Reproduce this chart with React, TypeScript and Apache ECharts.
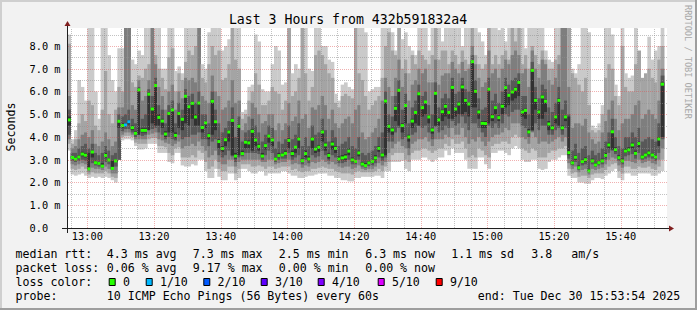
import React, { useEffect, useRef } from 'react';
import * as echarts from 'echarts';

const MONO = "'DejaVu Sans Mono', monospace";
const WINDOW_START = '12:53:54';
const WINDOW_SECONDS = 10800;
const FIRST_STEP_OFFSET = 6;
const STEP_SECONDS = 60;
const Y_MAX = 8.79;

const titleText = 'Last 3 Hours from 432b591832a4';
const yAxisName = 'Seconds';
const watermark = 'RRDTOOL / TOBI OETIKER';

// median RTT per minute (ms)
const medianRtt = [
  4.75, 3.10, 3.03, 3.12, 3.25, 3.20, 2.60, 3.34, 2.87, 2.84,
  2.72, 3.19, 2.99, 2.62, 2.95, 4.69, 4.50, 4.53, 4.67, 4.41,
  4.16, 6.07, 4.29, 4.29, 5.88, 5.23, 6.26, 4.86, 4.70, 4.13,
  5.03, 5.19, 4.07, 5.03, 4.78, 5.79, 5.33, 5.48, 4.88, 5.49,
  4.42, 4.62, 4.06, 5.57, 4.67, 3.80, 3.49, 3.88, 4.22, 4.73,
  3.16, 4.47, 3.27, 3.77, 3.74, 4.25, 3.87, 3.59, 3.16, 3.62,
  4.04, 3.87, 3.03, 3.18, 3.21, 3.28, 3.85, 3.27, 3.55, 3.91,
  2.96, 3.27, 3.03, 3.91, 3.47, 3.55, 4.22, 3.65, 3.19, 3.69,
  3.50, 3.03, 3.08, 3.12, 3.38, 2.99, 2.93, 3.30, 2.81, 2.74,
  2.86, 2.93, 3.08, 3.50, 3.21, 5.58, 4.47, 4.31, 5.26, 6.05,
  4.50, 5.38, 4.00, 4.70, 5.08, 5.90, 5.29, 5.54, 4.88, 4.31,
  5.92, 4.75, 5.11, 5.35, 5.08, 6.18, 5.23, 5.45, 6.20, 5.61,
  5.45, 7.31, 6.01, 5.10, 4.60, 4.59, 6.10, 4.89, 5.29, 4.85,
  5.35, 6.17, 5.83, 5.98, 6.10, 6.40, 5.10, 5.17, 4.22, 6.93,
  5.61, 5.10, 5.76, 5.57, 4.57, 4.40, 4.88, 5.61, 4.40, 4.88,
  3.31, 2.86, 3.11, 2.65, 2.92, 3.00, 2.51, 2.95, 2.77, 2.87,
  2.95, 3.19, 3.65, 4.23, 3.44, 3.09, 2.95, 3.38, 3.43, 3.65,
  3.28, 3.71, 3.12, 3.21, 3.30, 3.21, 3.12, 3.91, 6.32,
];

// smoke bands (ms): band1 = outermost (min..max), band5 = innermost
const band1Lo = [
  3.4, 2.35, 2.3, 2.35, 2.4, 2.3, 2.2, 2.25, 2.2, 2.25,
  2.2, 2.25, 2.2, 2.1, 2.0, 3.0, 3.85, 3.9, 3.9, 3.85,
  3.6, 3.45, 3.45, 3.5, 3.7, 3.7, 3.7, 3.3, 3.3, 3.3,
  2.9, 2.85, 3.3, 3.3, 2.75, 2.7, 2.7, 2.8, 2.75, 3.0,
  3.0, 2.5, 2.2, 2.2, 2.6, 2.25, 2.1, 2.1, 2.4, 2.4,
  2.1, 2.2, 2.6, 2.6, 2.5, 2.4, 2.4, 2.5, 2.5, 2.3,
  2.4, 2.4, 2.4, 2.4, 2.5, 2.5, 2.4, 2.3, 2.3, 2.2,
  2.2, 2.25, 2.3, 2.3, 2.35, 2.4, 2.4, 2.4, 2.3, 2.3,
  2.2, 2.2, 2.1, 2.1, 2.05, 2.05, 2.2, 2.2, 2.25, 2.25,
  2.25, 2.25, 2.3, 2.3, 2.2, 2.5, 2.5, 2.9, 2.9, 2.9,
  2.95, 2.6, 2.5, 3.0, 3.0, 3.0, 3.1, 3.1, 3.0, 2.9,
  3.0, 3.1, 3.1, 3.4, 3.2, 3.5, 3.3, 3.3, 3.3, 3.0,
  2.6, 2.6, 2.6, 3.1, 3.1, 2.8, 2.6, 3.3, 3.3, 3.4,
  3.4, 3.3, 3.2, 3.5, 3.6, 3.5, 3.0, 2.9, 2.9, 3.0,
  3.0, 2.6, 2.55, 2.6, 2.9, 3.0, 3.0, 3.1, 3.2, 3.2,
  2.3, 2.2, 2.2, 2.0, 2.0, 1.95, 1.95, 2.1, 2.2, 2.2,
  2.15, 2.3, 2.4, 2.5, 2.6, 2.2, 2.1, 2.4, 2.4, 2.3,
  2.3, 2.4, 2.4, 2.4, 2.4, 2.3, 2.3, 2.4, 2.5,
];
const band2Lo = [
  3.7, 2.6, 2.55, 2.6, 2.7, 2.6, 2.35, 2.45, 2.4, 2.4,
  2.4, 2.5, 2.4, 2.25, 2.2, 3.0, 4.0, 4.05, 4.05, 4.0,
  3.75, 3.7, 3.7, 3.7, 3.9, 3.95, 3.95, 3.6, 3.6, 3.55,
  3.3, 3.2, 3.5, 3.55, 3.1, 3.1, 3.1, 3.2, 3.1, 3.4,
  3.3, 2.9, 2.6, 2.7, 3.0, 2.6, 2.5, 2.5, 2.7, 2.7,
  2.4, 2.6, 2.8, 2.8, 2.8, 2.7, 2.7, 2.75, 2.7, 2.6,
  2.7, 2.7, 2.6, 2.65, 2.7, 2.7, 2.7, 2.55, 2.6, 2.5,
  2.45, 2.5, 2.5, 2.6, 2.6, 2.65, 2.7, 2.65, 2.6, 2.6,
  2.5, 2.45, 2.4, 2.4, 2.4, 2.35, 2.45, 2.5, 2.45, 2.45,
  2.45, 2.45, 2.5, 2.6, 2.5, 2.7, 2.9, 3.2, 3.3, 3.3,
  3.3, 3.0, 2.9, 3.3, 3.4, 3.4, 3.5, 3.5, 3.4, 3.3,
  3.4, 3.5, 3.5, 3.7, 3.6, 3.9, 3.7, 3.7, 3.8, 3.5,
  3.1, 3.2, 3.1, 3.5, 3.4, 3.2, 3.1, 3.6, 3.7, 3.7,
  3.8, 3.8, 3.7, 4.0, 4.1, 4.0, 3.5, 3.4, 3.3, 3.5,
  3.4, 3.1, 3.1, 3.1, 3.3, 3.4, 3.4, 3.5, 3.5, 3.6,
  2.6, 2.4, 2.45, 2.25, 2.3, 2.3, 2.2, 2.35, 2.4, 2.4,
  2.4, 2.55, 2.7, 2.8, 2.85, 2.5, 2.4, 2.7, 2.7, 2.6,
  2.6, 2.7, 2.65, 2.65, 2.7, 2.6, 2.55, 2.7, 3.0,
];
const band3Lo = [
  3.9, 2.8, 2.75, 2.8, 2.85, 2.8, 2.45, 2.65, 2.6, 2.6,
  2.55, 2.7, 2.6, 2.4, 2.4, 3.0, 4.1, 4.2, 4.2, 4.1,
  3.9, 3.9, 3.9, 3.9, 4.1, 4.15, 4.2, 3.9, 3.85, 3.75,
  3.7, 3.6, 3.7, 3.8, 3.5, 3.6, 3.6, 3.7, 3.6, 3.8,
  3.6, 3.4, 3.1, 3.2, 3.4, 2.9, 2.8, 2.8, 3.0, 3.0,
  2.7, 2.9, 3.0, 3.0, 3.0, 3.0, 3.0, 3.0, 2.9, 2.9,
  3.0, 3.0, 2.8, 2.85, 2.9, 2.9, 3.0, 2.8, 2.85, 2.8,
  2.65, 2.75, 2.7, 2.9, 2.85, 2.9, 3.0, 2.9, 2.8, 2.9,
  2.8, 2.7, 2.65, 2.7, 2.7, 2.6, 2.65, 2.75, 2.6, 2.55,
  2.6, 2.6, 2.7, 2.85, 2.75, 2.9, 3.3, 3.5, 3.7, 3.8,
  3.6, 3.5, 3.2, 3.7, 3.8, 3.9, 3.9, 4.0, 3.8, 3.6,
  3.9, 3.9, 3.9, 4.1, 4.0, 4.4, 4.1, 4.1, 4.4, 4.0,
  3.7, 3.9, 3.8, 4.0, 3.8, 3.6, 3.8, 4.0, 4.1, 4.1,
  4.2, 4.4, 4.3, 4.6, 4.6, 4.6, 4.0, 3.9, 3.7, 4.2,
  4.0, 3.7, 3.8, 3.8, 3.7, 3.8, 3.9, 4.0, 3.8, 4.0,
  2.85, 2.6, 2.7, 2.45, 2.55, 2.6, 2.35, 2.6, 2.55, 2.6,
  2.65, 2.8, 3.0, 3.1, 3.05, 2.75, 2.65, 2.95, 2.95, 2.9,
  2.85, 3.0, 2.85, 2.9, 2.95, 2.85, 2.8, 3.0, 3.5,
];
const band4Lo = [
  4.1, 2.95, 2.9, 2.95, 3.0, 2.95, 2.55, 2.85, 2.75, 2.7,
  2.65, 2.9, 2.8, 2.55, 2.7, 3.0, 4.25, 4.35, 4.35, 4.2,
  4.0, 4.1, 4.05, 4.1, 4.3, 4.35, 4.4, 4.2, 4.1, 3.9,
  4.0, 3.9, 3.85, 4.1, 3.9, 4.0, 4.0, 4.1, 4.1, 4.2,
  3.9, 3.9, 3.6, 3.8, 3.9, 3.2, 3.1, 3.2, 3.4, 3.15,
  2.9, 3.1, 3.15, 3.3, 3.3, 3.3, 3.3, 3.25, 3.0, 3.2,
  3.4, 3.3, 2.9, 3.0, 3.05, 3.05, 3.3, 3.0, 3.1, 3.2,
  2.8, 3.0, 2.85, 3.2, 3.1, 3.15, 3.4, 3.2, 2.95, 3.2,
  3.1, 2.85, 2.85, 2.9, 3.0, 2.8, 2.8, 3.0, 2.7, 2.65,
  2.72, 2.75, 2.85, 3.1, 2.95, 3.1, 3.8, 3.8, 4.2, 4.4,
  3.9, 4.0, 3.5, 4.1, 4.2, 4.5, 4.4, 4.5, 4.2, 3.9,
  4.45, 4.2, 4.3, 4.5, 4.4, 4.7, 4.5, 4.6, 4.9, 4.6,
  4.3, 4.6, 4.6, 4.4, 4.2, 4.0, 4.5, 4.4, 4.6, 4.4,
  4.6, 5.0, 4.9, 5.1, 5.2, 5.2, 4.5, 4.4, 4.0, 4.25,
  4.6, 4.3, 4.5, 4.5, 4.1, 4.1, 4.3, 4.4, 4.1, 4.4,
  3.05, 2.75, 2.9, 2.55, 2.75, 2.8, 2.45, 2.8, 2.68, 2.75,
  2.8, 3.0, 3.3, 3.4, 3.25, 2.95, 2.8, 3.15, 3.2, 3.25,
  3.05, 3.3, 3.0, 3.05, 3.1, 3.05, 2.95, 3.3, 3.9,
];
const band5Lo = [
  4.5, 3.05, 2.98, 3.05, 3.15, 3.1, 2.6, 3.1, 2.85, 2.8,
  2.7, 3.1, 2.95, 2.6, 2.9, 4.4, 4.4, 4.45, 4.55, 4.3,
  4.1, 4.1, 4.2, 4.2, 4.3, 4.6, 4.5, 4.5, 4.4, 4.0,
  4.2, 4.2, 3.95, 4.4, 4.3, 4.6, 4.5, 4.8, 4.5, 4.5,
  4.2, 4.4, 3.9, 4.1, 4.3, 3.5, 3.35, 3.6, 3.8, 3.2,
  3.05, 3.2, 3.2, 3.5, 3.5, 3.4, 3.6, 3.4, 3.1, 3.45,
  3.75, 3.6, 2.98, 3.1, 3.15, 3.2, 3.5, 3.15, 3.3, 3.5,
  2.9, 3.1, 2.95, 3.5, 3.3, 3.35, 3.8, 3.4, 3.05, 3.45,
  3.3, 2.95, 2.98, 3.0, 3.2, 2.9, 2.88, 3.15, 2.75, 2.7,
  2.8, 2.85, 2.98, 3.35, 3.1, 3.2, 4.2, 4.1, 4.7, 4.5,
  4.2, 4.6, 3.8, 4.4, 4.6, 4.5, 4.9, 5.0, 4.6, 4.15,
  4.5, 4.5, 4.7, 4.9, 4.8, 4.8, 4.9, 5.0, 5.0, 5.1,
  4.9, 5.3, 5.3, 4.8, 4.4, 4.4, 4.6, 4.7, 5.0, 4.7,
  5.0, 5.3, 5.4, 5.6, 5.7, 5.8, 4.9, 4.8, 4.15, 4.3,
  5.2, 4.8, 4.8, 5.1, 4.3, 4.3, 4.6, 4.5, 4.3, 4.7,
  3.2, 2.8, 3.0, 2.6, 2.85, 2.9, 2.48, 2.9, 2.73, 2.82,
  2.9, 3.1, 3.5, 3.45, 3.35, 3.02, 2.9, 3.3, 3.35, 3.5,
  3.2, 3.55, 3.05, 3.15, 3.2, 3.15, 3.05, 3.6, 4.0,
];
const band5Hi = [
  4.9, 3.15, 3.1, 3.2, 3.35, 3.3, 3.3, 3.4, 2.95, 2.9,
  2.85, 3.3, 3.05, 2.95, 3.0, 4.75, 4.6, 4.6, 4.75, 4.5,
  4.25, 6.1, 4.4, 4.4, 5.95, 5.3, 6.3, 5.0, 4.8, 4.25,
  5.1, 5.25, 4.2, 5.1, 4.85, 5.85, 5.4, 5.55, 5.0, 5.55,
  4.5, 4.7, 4.15, 5.65, 4.75, 3.9, 3.6, 3.95, 4.3, 4.8,
  3.3, 4.55, 3.4, 3.85, 3.85, 4.35, 3.95, 3.7, 3.3, 3.7,
  4.1, 3.95, 3.1, 3.3, 3.3, 3.4, 3.95, 3.4, 3.6, 4.0,
  3.05, 3.4, 3.15, 4.0, 3.55, 3.65, 4.3, 3.75, 3.3, 3.8,
  3.6, 3.15, 3.2, 3.25, 3.5, 3.1, 3.0, 3.4, 2.9, 2.85,
  2.95, 3.0, 3.2, 3.6, 3.3, 5.65, 4.55, 4.4, 5.35, 6.1,
  4.6, 5.45, 4.1, 4.8, 5.15, 5.95, 5.35, 5.6, 4.95, 4.4,
  6.0, 4.85, 5.2, 5.45, 5.15, 6.25, 5.3, 5.55, 6.3, 5.7,
  5.5, 7.35, 6.1, 5.2, 4.7, 4.7, 6.15, 5.0, 5.35, 4.95,
  5.45, 6.25, 5.9, 6.05, 6.2, 6.5, 5.2, 5.25, 4.35, 7.0,
  5.7, 5.2, 5.85, 5.65, 4.7, 4.5, 4.95, 5.7, 4.5, 4.95,
  4.9, 2.95, 3.2, 2.75, 3.0, 3.1, 2.6, 3.05, 2.85, 2.95,
  3.05, 3.3, 3.75, 4.3, 3.55, 3.2, 3.05, 3.5, 3.55, 3.75,
  3.4, 3.8, 3.2, 3.3, 3.4, 3.3, 3.2, 4.0, 6.4,
];
const band4Hi = [
  5.2, 3.3, 3.3, 3.5, 3.6, 3.7, 3.5, 3.7, 3.3, 3.2,
  3.3, 3.6, 3.4, 3.2, 3.3, 5.0, 4.9, 5.0, 5.2, 4.8,
  4.6, 6.2, 4.8, 5.0, 6.1, 5.8, 6.6, 5.4, 5.2, 4.6,
  5.4, 5.6, 4.6, 5.5, 5.2, 6.1, 5.8, 5.9, 5.5, 6.0,
  5.0, 5.0, 4.6, 6.0, 5.2, 4.6, 4.2, 4.4, 4.7, 5.3,
  4.0, 4.9, 3.8, 4.2, 4.3, 4.8, 4.5, 4.2, 3.8, 4.1,
  4.5, 4.4, 3.5, 3.8, 3.7, 3.9, 4.5, 3.9, 4.1, 4.6,
  3.6, 4.0, 3.6, 4.5, 4.1, 4.2, 4.8, 4.3, 3.8, 4.3,
  4.0, 3.6, 3.7, 3.8, 4.0, 3.6, 3.5, 4.0, 3.3, 3.2,
  3.3, 3.4, 3.6, 4.0, 4.2, 6.0, 5.0, 4.9, 5.8, 6.5,
  5.2, 5.9, 4.6, 5.3, 5.6, 6.3, 5.8, 6.0, 5.4, 5.0,
  6.4, 5.3, 5.7, 5.9, 5.7, 6.6, 5.9, 6.0, 6.6, 6.1,
  6.0, 7.6, 6.5, 5.7, 5.2, 5.3, 6.6, 5.6, 5.9, 5.5,
  6.0, 6.6, 6.3, 6.5, 6.6, 6.8, 5.8, 5.8, 5.0, 7.3,
  6.2, 5.7, 6.3, 6.1, 5.3, 5.1, 5.5, 6.2, 5.2, 5.6,
  5.0, 3.4, 3.7, 3.3, 3.5, 3.6, 3.2, 3.4, 3.2, 3.3,
  3.5, 3.8, 4.2, 4.8, 4.0, 3.6, 3.5, 4.0, 4.0, 4.2,
  4.0, 4.4, 3.8, 3.9, 4.0, 3.9, 3.8, 4.6, 6.7,
];
const band3Hi = [
  5.8, 3.5, 3.6, 3.9, 4.1, 4.2, 4.0, 4.3, 3.7, 3.6,
  3.8, 4.2, 3.9, 3.6, 3.8, 5.3, 5.3, 8.8, 8.8, 5.4,
  5.2, 6.5, 5.6, 5.8, 6.5, 8.8, 7.2, 6.2, 5.8, 5.2,
  6.0, 6.3, 5.2, 6.0, 5.7, 6.6, 6.5, 6.6, 6.4, 8.8,
  5.8, 5.6, 5.5, 6.7, 6.0, 5.8, 5.2, 5.3, 5.6, 6.5,
  5.5, 5.6, 4.3, 4.6, 4.9, 5.5, 5.3, 5.0, 4.6, 4.7,
  5.0, 5.0, 4.3, 4.6, 4.3, 4.6, 5.5, 4.7, 4.9, 5.6,
  4.8, 5.0, 4.4, 5.3, 5.2, 5.4, 5.8, 5.4, 4.8, 5.2,
  4.6, 4.4, 4.6, 4.8, 4.9, 4.6, 5.2, 5.4, 4.2, 3.9,
  4.0, 4.2, 4.4, 4.8, 5.6, 6.6, 6.2, 5.8, 6.6, 7.4,
  6.2, 6.8, 5.6, 6.3, 6.5, 7.0, 6.8, 7.0, 6.4, 6.4,
  7.4, 6.3, 6.7, 6.8, 6.8, 7.3, 7.0, 6.8, 7.3, 6.9,
  7.0, 8.0, 7.2, 6.6, 6.2, 6.4, 7.8, 6.8, 7.0, 6.6,
  7.0, 7.4, 7.2, 7.6, 7.8, 7.6, 6.8, 7.0, 6.2, 7.8,
  7.0, 6.6, 7.4, 7.2, 6.5, 6.3, 6.6, 7.2, 8.8, 8.8,
  6.2, 4.4, 4.6, 4.6, 4.5, 4.8, 4.2, 3.9, 3.7, 3.8,
  4.2, 4.7, 5.2, 5.6, 4.8, 4.3, 4.6, 4.8, 4.8, 5.0,
  5.4, 5.6, 4.8, 5.0, 5.2, 5.0, 4.8, 5.6, 7.0,
];
const band2Hi = [
  8.1, 3.7, 3.9, 4.6, 5.0, 4.7, 5.6, 5.4, 4.5, 4.3,
  5.2, 6.9, 5.0, 4.6, 5.2, 6.2, 6.0, 8.8, 8.8, 6.4,
  6.2, 6.7, 6.6, 7.0, 7.2, 8.8, 7.6, 7.0, 6.6, 6.1,
  7.5, 7.9, 6.0, 6.8, 6.5, 7.3, 7.8, 7.6, 8.0, 8.8,
  6.6, 6.4, 7.2, 8.0, 7.6, 7.8, 6.5, 6.6, 7.2, 8.8,
  7.4, 7.0, 4.8, 5.0, 5.6, 6.0, 6.8, 6.3, 5.4, 5.4,
  5.6, 6.2, 6.0, 5.9, 5.2, 5.6, 8.8, 5.8, 6.0, 6.6,
  8.8, 6.8, 5.6, 6.2, 7.6, 7.8, 7.6, 7.2, 6.8, 6.6,
  5.5, 5.3, 5.8, 5.9, 5.8, 5.7, 8.8, 6.8, 6.5, 5.8,
  5.2, 5.4, 5.6, 5.8, 6.6, 8.0, 8.6, 7.8, 7.6, 8.8,
  7.0, 7.4, 6.8, 7.6, 7.2, 7.8, 7.6, 7.4, 7.2, 7.6,
  8.8, 7.4, 7.8, 7.8, 7.2, 7.8, 7.6, 7.2, 7.8, 7.4,
  7.2, 8.8, 7.6, 7.2, 7.0, 7.2, 8.8, 7.2, 7.6, 7.2,
  7.6, 7.8, 7.4, 8.8, 8.2, 8.8, 7.2, 7.6, 7.0, 8.0,
  7.6, 7.2, 7.8, 7.4, 7.0, 7.0, 7.4, 7.6, 8.8, 8.8,
  8.8, 6.8, 6.6, 6.3, 6.0, 6.6, 5.4, 4.3, 4.2, 4.3,
  5.0, 6.6, 7.2, 7.0, 5.8, 5.4, 8.0, 6.2, 6.0, 6.0,
  7.2, 7.8, 6.6, 6.8, 7.0, 6.6, 6.4, 7.4, 8.0,
];
const band1Hi = [
  8.5, 3.9, 4.3, 6.5, 6.2, 5.6, 8.8, 8.8, 6.0, 4.8,
  8.8, 8.8, 7.6, 6.5, 6.0, 7.9, 7.9, 8.8, 8.8, 7.4,
  7.2, 7.8, 7.6, 8.8, 8.8, 8.8, 8.8, 8.8, 7.0, 7.0,
  8.8, 8.8, 6.9, 7.1, 6.8, 8.8, 8.8, 8.8, 8.8, 8.8,
  7.2, 7.0, 8.6, 8.8, 8.8, 8.8, 7.8, 8.0, 8.3, 8.8,
  8.8, 8.8, 5.1, 5.2, 6.2, 6.3, 8.5, 8.2, 6.1, 6.0,
  6.0, 7.2, 8.0, 7.8, 6.3, 6.4, 8.8, 6.8, 7.2, 7.0,
  8.8, 8.8, 7.0, 6.9, 8.8, 8.8, 8.0, 8.0, 7.4, 7.3,
  5.9, 5.6, 6.3, 6.4, 6.2, 6.1, 8.8, 8.8, 8.8, 8.6,
  6.0, 6.1, 6.2, 6.2, 8.8, 8.8, 8.8, 8.6, 7.8, 8.8,
  8.3, 8.6, 8.0, 7.8, 7.6, 8.8, 8.8, 8.8, 7.8, 8.8,
  8.8, 8.8, 8.2, 8.8, 8.8, 8.8, 8.8, 8.8, 8.0, 8.8,
  8.8, 8.8, 8.8, 8.6, 8.2, 7.6, 8.8, 8.8, 8.8, 8.7,
  8.8, 8.2, 8.8, 8.8, 8.8, 8.8, 8.8, 7.9, 8.8, 8.8,
  8.8, 8.8, 8.8, 7.8, 7.4, 7.3, 8.8, 8.8, 8.8, 8.8,
  8.8, 7.0, 6.8, 7.2, 8.8, 8.8, 8.6, 4.5, 4.4, 4.6,
  5.4, 8.8, 8.8, 8.5, 6.3, 5.8, 8.8, 6.8, 6.6, 6.7,
  8.8, 7.0, 6.4, 6.6, 8.4, 7.4, 7.8, 8.0, 8.8,
];

// packet loss (tenths) at the steps that had loss
const lossStepIndex = [17, 18];
const lossStepTenths = [1, 1];

const lossLegendLabels = ['0', '1/10', '2/10', '3/10', '4/10', '5/10', '9/10'];
const lossLegendTenths = [0, 1, 2, 3, 4, 5, 9];
const lossLegendColors = ['#26ff00', '#00b8ff', '#0059ff', '#5e00ff', '#7e00ff', '#dd00ff', '#ff0000'];

const xTickLabels = ['13:00', '13:20', '13:40', '14:00', '14:20', '14:40', '15:00', '15:20', '15:40'];
const xMinorGridLabels = [
  '12:55', '13:05', '13:10', '13:15', '13:25', '13:30', '13:35', '13:45', '13:50', '13:55',
  '14:05', '14:10', '14:15', '14:25', '14:30', '14:35', '14:45', '14:50', '14:55',
  '15:05', '15:10', '15:15', '15:25', '15:30', '15:35', '15:45', '15:50',
];
const yTickValues = [0, 1, 2, 3, 4, 5, 6, 7, 8];
const yMajorGrid = [1, 2, 3, 4, 5, 6, 7, 8];
const yMinorGrid = [0.5, 1.5, 2.5, 3.5, 4.5, 5.5, 6.5, 7.5, 8.5];

const statKinds = ['avg', 'max', 'min', 'now'];
const medianRttStats = [4.3, 7.3, 2.5, 6.3];
const medianRttSd = 1.1;
const medianRttAmS = 3.8;
const packetLossStats = [0.06, 9.17, 0.0, 0.0];
const probeText = '10 ICMP Echo Pings (56 Bytes) every 60s';
const endText = 'end: Tue Dec 30 15:53:54 2025';

const smokeShades = ['#cacaca', '#a4a4a4', '#7e7e7e', '#585858', '#323232'];

function toSeconds(s: string) {
  const p = s.split(':').map(Number);
  return p[0] * 3600 + p[1] * 60 + (p[2] || 0);
}
function clockOffset(label: string) {
  return toSeconds(label) - toSeconds(WINDOW_START);
}
function lossColorOf(tenths: number) {
  const k = lossLegendTenths.indexOf(tenths);
  return lossLegendColors[k >= 0 ? k : 0];
}

const smokeRows = medianRtt.map((m, i) => {
  const t0 = FIRST_STEP_OFFSET + i * STEP_SECONDS;
  const li = lossStepIndex.indexOf(i);
  const loss = li >= 0 ? lossStepTenths[li] : 0;
  return [t0, t0 + STEP_SECONDS, band1Lo[i], band2Lo[i], band3Lo[i], band4Lo[i], band5Lo[i],
    band5Hi[i], band4Hi[i], band3Hi[i], band2Hi[i], band1Hi[i], m, loss];
});

const gridRows = [
  ...yMinorGrid.map((v) => [0, v, 0]),
  ...yMajorGrid.map((v) => [0, v, 1]),
  ...xMinorGridLabels.map((l) => [1, clockOffset(l), 0]),
  ...xTickLabels.map((l) => [1, clockOffset(l), 1]),
];

const xTickOffsets = xTickLabels.map(clockOffset);

function buildGraphics() {
  const els: any[] = [];
  const LEG = 11.6;
  els.push({ type: 'rect', shape: { x: 0, y: 0, width: 697, height: 2 }, style: { fill: '#cfcfcf' } });
  els.push({ type: 'rect', shape: { x: 0, y: 0, width: 2, height: 310 }, style: { fill: '#cfcfcf' } });
  els.push({ type: 'rect', shape: { x: 0, y: 308, width: 697, height: 2 }, style: { fill: '#9e9e9e' } });
  els.push({ type: 'rect', shape: { x: 695, y: 0, width: 2, height: 310 }, style: { fill: '#9e9e9e' } });
  els.push({ type: 'text', x: 348, y: 19.3, style: { text: titleText, fontFamily: MONO, fontSize: 13.2, fill: '#000', textAlign: 'center', verticalAlign: 'middle', textVerticalAlign: 'middle' } });
  els.push({ type: 'text', x: 10.5, y: 127, rotation: Math.PI / 2, style: { text: yAxisName, fontFamily: MONO, fontSize: LEG, fill: '#000', textAlign: 'center', verticalAlign: 'middle', textVerticalAlign: 'middle' } });
  els.push({ type: 'text', x: 687.5, y: 5, rotation: -Math.PI / 2, style: { text: watermark, fontFamily: MONO, fontSize: 8.6, fill: '#a8a8a8', textAlign: 'left', verticalAlign: 'middle', textVerticalAlign: 'middle' } });
  els.push({ type: 'line', z: 100, shape: { x1: 67.5, y1: 233, x2: 67.5, y2: 25 }, style: { stroke: '#1f1f1f', lineWidth: 1 } });
  els.push({ type: 'line', z: 100, shape: { x1: 62, y1: 228.5, x2: 670, y2: 228.5 }, style: { stroke: '#1f1f1f', lineWidth: 1 } });
  els.push({ type: 'polygon', z: 100, shape: { points: [[64.5, 26], [70.5, 26], [67.5, 21]] }, style: { fill: '#801f1f' } });
  els.push({ type: 'polygon', z: 100, shape: { points: [[669, 225.5], [669, 231.5], [674, 228.5]] }, style: { fill: '#801f1f' } });

  const rowY = [254.3, 267.7, 282.3, 295.7];
  const statX = [106.8, 192.8, 278.8, 365.2];
  const txt = (text: string, x: number, y: number) => ({
    type: 'text', x, y,
    style: { text, fontFamily: MONO, fontSize: LEG, fill: '#000', textAlign: 'left', verticalAlign: 'middle', textVerticalAlign: 'middle' },
  });
  els.push(txt('median rtt:', 15.5, rowY[0]));
  medianRttStats.forEach((v, i) => els.push(txt(`${v.toFixed(1)} ms ${statKinds[i]}`, statX[i], rowY[0])));
  els.push(txt(`${medianRttSd.toFixed(1)} ms sd`, 451.2, rowY[0]));
  els.push(txt(`${medianRttAmS.toFixed(1)}`, 531.2, rowY[0]));
  els.push(txt('am/s', 571.2, rowY[0]));

  els.push(txt('packet loss:', 15.5, rowY[1]));
  packetLossStats.forEach((v, i) => els.push(txt(`${v.toFixed(2)} % ${statKinds[i]}`, statX[i], rowY[1])));

  els.push(txt('loss color:', 15.5, rowY[2]));
  const boxX = [108.7, 145.7, 203.3, 260.7, 317.7, 377.7, 435.7];
  lossLegendLabels.forEach((lab, i) => {
    els.push({ type: 'rect', shape: { x: boxX[i] + 0.5, y: 278.5, width: 6, height: 7 }, style: { fill: lossLegendColors[i], stroke: '#000', lineWidth: 1 } });
    els.push(txt(lab, boxX[i] + 14.2, rowY[2]));
  });

  els.push(txt('probe:', 15.5, rowY[3]));
  els.push(txt(probeText, 106.8, rowY[3]));
  els.push(txt(endText, 477.8, rowY[3]));
  return els;
}

function buildOption() {
  return {
    animation: false,
    backgroundColor: '#f2f2f2',
    textStyle: { fontFamily: MONO },
    grid: { left: 67, top: 28, width: 600, height: 200, show: true, backgroundColor: '#ffffff', borderWidth: 0 },
    xAxis: {
      type: 'value', min: 0, max: WINDOW_SECONDS,
      axisLine: { show: false }, axisTick: { show: false }, splitLine: { show: false },
      axisLabel: {
        customValues: xTickOffsets,
        formatter: (v: number) => {
          const k = xTickOffsets.findIndex((o) => Math.abs(o - v) < 1);
          return k >= 0 ? xTickLabels[k] : '';
        },
        fontFamily: MONO, fontSize: 10.3, color: '#000', margin: 3,
      },
    },
    yAxis: {
      type: 'value', min: 0, max: Y_MAX,
      axisLine: { show: false }, axisTick: { show: false }, splitLine: { show: false },
      axisLabel: {
        customValues: yTickValues,
        formatter: (v: number) => (v === 0 ? '0.0' : `${v.toFixed(1)} m`),
        fontFamily: MONO, fontSize: 10.3, color: '#000', align: 'left', margin: 37.5,
      },
    },
    series: [
      {
        type: 'custom', name: 'smoke', z: 2, clip: true,
        data: smokeRows,
        renderItem: (params: any, api: any) => {
          const t0 = api.value(0);
          const t1 = api.value(1);
          const children: any[] = [];
          for (let b = 0; b < 5; b++) {
            const lo = Math.max(0, api.value(2 + b));
            const hi = Math.min(Y_MAX, api.value(11 - b));
            const a = api.coord([t0, hi]);
            const c = api.coord([t1, lo]);
            children.push({ type: 'rect', shape: { x: a[0], y: a[1], width: c[0] - a[0] + 0.35, height: c[1] - a[1] }, style: { fill: smokeShades[b] } });
          }
          const med = api.value(12);
          const a = api.coord([t0, med]);
          const c = api.coord([t1, med]);
          children.push({ type: 'rect', shape: { x: a[0], y: a[1] - 1.5, width: c[0] - a[0], height: 3 }, style: { fill: lossColorOf(api.value(13)) } });
          return { type: 'group', children };
        },
      },
      {
        type: 'custom', name: 'grid', z: 5, silent: true,
        data: gridRows,
        renderItem: (params: any, api: any) => {
          const o = api.value(0);
          const v = api.value(1);
          const major = api.value(2);
          let x1, y1, x2, y2;
          if (o === 0) {
            const a = api.coord([0, v]);
            const b = api.coord([WINDOW_SECONDS, v]);
            const y = Math.round(a[1]) + 0.5;
            x1 = a[0] + 1; x2 = b[0]; y1 = y; y2 = y;
          } else {
            const a = api.coord([v, 0]);
            const b = api.coord([v, Y_MAX]);
            const x = Math.round(a[0]) + 0.5;
            x1 = x; x2 = x; y1 = a[1]; y2 = b[1];
          }
          return {
            type: 'line', shape: { x1, y1, x2, y2 },
            style: { stroke: major ? 'rgba(222,79,79,0.45)' : 'rgba(143,143,143,0.55)', lineWidth: 1, lineDash: [1, 1] },
          };
        },
      },
    ],
    graphic: { elements: buildGraphics() },
  };
}

export default function App() {
  const ref = useRef<HTMLDivElement>(null);
  useEffect(() => {
    if (!ref.current) return;
    const chart = echarts.init(ref.current, undefined, { renderer: 'svg', width: 697, height: 310 });
    chart.setOption(buildOption() as any);
    return () => chart.dispose();
  }, []);
  return <div ref={ref} style={{ position: 'absolute', left: 0, top: 0, width: 697, height: 310 }} />;
}
